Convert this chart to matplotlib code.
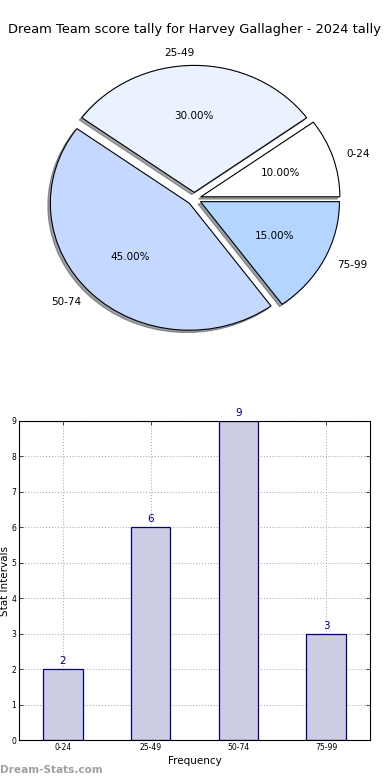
import matplotlib
matplotlib.use("Agg")
import matplotlib.pyplot as plt

title = "Dream Team score tally for Harvey Gallagher - 2024 tally"
categories = ["0-24", "25-49", "50-74", "75-99"]
counts = [2, 6, 9, 3]
pie_colors = ["#ffffff", "#ebf2ff", "#c5d8ff", "#b3d5ff"]

fig = plt.figure(figsize=(3.9, 7.8), dpi=100)
fig.text(0.5, 1 - 30/780, title, ha="center", va="center", fontsize=9.4)

# Pie
axp = fig.add_axes([20.5/390, (780-357.5)/780, 347.5/390, 317.5/780])
wedges, texts, autotexts = axp.pie(
    counts, labels=categories, colors=pie_colors, explode=[0.05]*4,
    autopct="%1.2f%%", shadow={"ox": -0.013, "oy": -0.013, "shade": 0.7},
    startangle=0,
    wedgeprops=dict(edgecolor="black", linewidth=0.8),
    textprops=dict(fontsize=7.5))
axp.set_aspect("auto")
axp.set_xlim(-1.25, 1.25)
axp.set_ylim(-1.25, 1.25)

# Bar
axb = fig.add_axes([19/390, 40/780, 351/390, 319/780])
x = list(range(len(categories)))
bars = axb.bar(x, counts, width=0.45, color="#ccccE5", edgecolor="#000080", linewidth=0.9, zorder=2)
for xi, c in zip(x, counts):
    axb.text(xi, c + 0.08, str(c), ha="center", va="bottom", fontsize=7.5, color="#000080")
axb.set_xlim(-0.5, 3.5)
axb.set_ylim(0, 9)
axb.set_xticks(x)
axb.set_xticklabels(categories)
axb.set_yticks(range(10))
axb.tick_params(axis="both", labelsize=5.5, direction="in", length=3, width=0.5, top=True, right=True, pad=2)
axb.grid(True, linestyle=":", color="#b0b0b0", linewidth=0.8, zorder=0)
axb.set_axisbelow(True)
axb.set_xlabel("Frequency", fontsize=7.5, labelpad=3)
axb.set_ylabel("Stat Intervals", fontsize=7.5, labelpad=1)
for s in axb.spines.values():
    s.set_linewidth(0.8)

fig.text(0.0, 1 - 770/780, "Dream-Stats.com", ha="left", va="center", fontsize=7.6, color="#a0a0a0", fontweight="bold")

fig.savefig("out.png", dpi=100)
